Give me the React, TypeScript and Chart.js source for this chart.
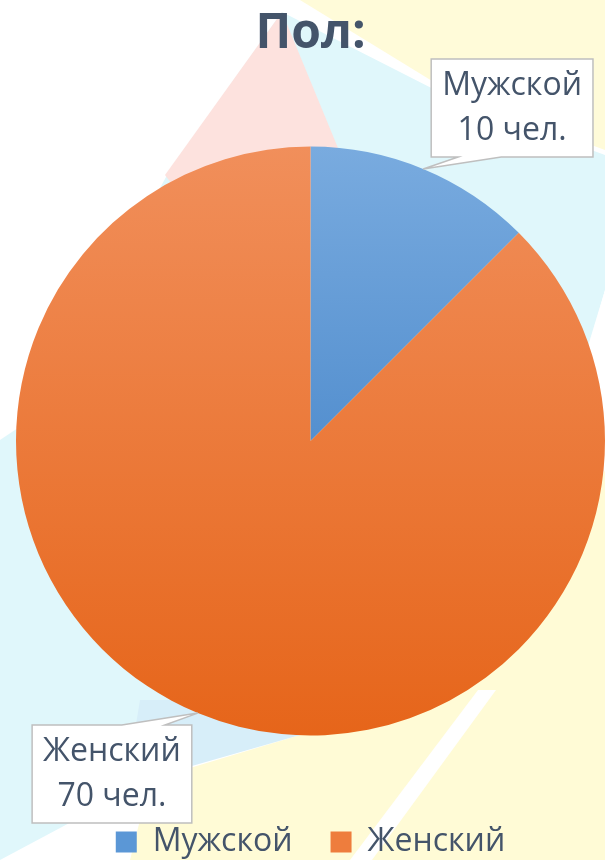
import React, { useEffect, useRef } from 'react';
import { Chart, registerables } from 'chart.js';

Chart.register(...registerables);

// ---- data ----
const categories: string[] = ['Мужской', 'Женский'];
const values: number[] = [10, 70];
const unitLabel = 'чел.';
const titleText = 'Пол:';

// ---- styles ----
const FONT = '"Open Sans", "Noto Sans", "DejaVu Sans", sans-serif';
const TEXT = '#44546a';
const gradTop = ['#79abdf', '#f18f5b'];
const gradBottom = ['#2f74bf', '#e6651a'];
const legendColors = ['#5b97d6', '#ee7d3d'];
const LABEL_SIZE = 32;

const bgPlugin = {
  id: 'bgDecor',
  beforeDraw(chart: any) {
    const { ctx, width, height } = chart;
    const sx = width / 605;
    const sy = height / 860;
    ctx.save();
    ctx.fillStyle = '#ffffff';
    ctx.fillRect(0, 0, width, height);
    const poly = (pts: number[][], color: string) => {
      ctx.beginPath();
      pts.forEach(([x, y], i) => (i ? ctx.lineTo(x * sx, y * sy) : ctx.moveTo(x * sx, y * sy)));
      ctx.closePath();
      ctx.fillStyle = color;
      ctx.fill();
    };
    poly([[300, 0], [605, 0], [605, 150], [455, 95]], '#fffbd9');
    poly([[282, 12], [455, 100], [605, 155], [605, 290], [560, 450], [300, 700], [150, 780], [0, 860], [0, 440], [30, 420], [170, 170]], '#e0f7fb');
    poly([[605, 290], [605, 310], [560, 470], [555, 455]], '#ffffff');
    poly([[282, 12], [345, 165], [260, 300], [165, 175]], '#fde2de');
    poly([[605, 470], [605, 860], [130, 860], [150, 780], [300, 735], [420, 700], [560, 560]], '#fffbd6');
    poly([[140, 700], [330, 700], [300, 735], [150, 778], [130, 760]], '#d7eef9');
    poly([[478, 690], [496, 690], [372, 860], [350, 860]], '#ffffff');
    ctx.restore();
  },
};

const calloutPlugin = {
  id: 'callouts',
  afterDatasetsDraw(chart: any) {
    const ctx = chart.ctx;
    const meta = chart.getDatasetMeta(0);
    const labels = chart.data.labels;
    const data = chart.data.datasets[0].data;
    const padX = 11;
    const boxH = 98;
    const lineGap = 45;
    ctx.save();
    ctx.font = `${LABEL_SIZE}px ${FONT}`;
    meta.data.forEach((arc: any, i: number) => {
      const { x, y, startAngle, endAngle, outerRadius } = arc.getProps(
        ['x', 'y', 'startAngle', 'endAngle', 'outerRadius'],
        true
      );
      const mid = (startAngle + endAngle) / 2;
      const tx = x + Math.cos(mid) * outerRadius;
      const ty = y + Math.sin(mid) * outerRadius;
      const line1 = String(labels[i]);
      const line2 = `${data[i]} ${unitLabel}`;
      const tw = Math.max(ctx.measureText(line1).width, ctx.measureText(line2).width);
      const bw = tw + 2 * padX;
      const right = Math.cos(mid) >= 0;
      const up = Math.sin(mid) < 0;
      const L = right ? tx + 8 : tx - 6 - bw;
      const R = L + bw;
      const T = up ? ty - 12 - boxH : ty + 12;
      const B = T + boxH;
      const b1 = right ? L + 27 : R - 27;
      const b2 = right ? L + 70 : R - 70;
      const lo = Math.min(b1, b2);
      const hi = Math.max(b1, b2);
      ctx.beginPath();
      if (up) {
        ctx.moveTo(L, T);
        ctx.lineTo(R, T);
        ctx.lineTo(R, B);
        ctx.lineTo(hi, B);
        ctx.lineTo(tx, ty);
        ctx.lineTo(lo, B);
        ctx.lineTo(L, B);
      } else {
        ctx.moveTo(L, T);
        ctx.lineTo(lo, T);
        ctx.lineTo(tx, ty);
        ctx.lineTo(hi, T);
        ctx.lineTo(R, T);
        ctx.lineTo(R, B);
        ctx.lineTo(L, B);
      }
      ctx.closePath();
      ctx.fillStyle = '#ffffff';
      ctx.fill();
      ctx.lineWidth = 1.5;
      ctx.strokeStyle = '#bfbfbf';
      ctx.stroke();
      ctx.fillStyle = TEXT;
      ctx.textAlign = 'center';
      ctx.textBaseline = 'middle';
      const cx = (L + R) / 2;
      const cy = (T + B) / 2;
      ctx.fillText(line1, cx, cy - lineGap / 2);
      ctx.fillText(line2, cx, cy + lineGap / 2);
    });
    ctx.restore();
  },
};

function sliceGradient(context: any) {
  const chart = context.chart;
  const i = context.dataIndex;
  const area = chart.chartArea;
  if (!area) return gradTop[i];
  const cy = (area.top + area.bottom) / 2;
  const r = Math.min(area.right - area.left, area.bottom - area.top) / 2;
  const g = chart.ctx.createLinearGradient(0, cy - r, 0, cy + r);
  g.addColorStop(0, gradTop[i]);
  g.addColorStop(1, gradBottom[i]);
  return g;
}

export default function App() {
  const ref = useRef<HTMLCanvasElement | null>(null);

  useEffect(() => {
    if (!ref.current) return;
    const chart = new Chart(ref.current, {
      type: 'pie',
      data: {
        labels: categories,
        datasets: [
          {
            data: values,
            backgroundColor: sliceGradient as any,
            borderWidth: 0,
          },
        ],
      },
      options: {
        animation: false,
        responsive: true,
        maintainAspectRatio: false,
        layout: { padding: { left: 16, right: 0, top: 0, bottom: -8 } },
        plugins: {
          title: {
            display: true,
            text: titleText,
            color: TEXT,
            font: { family: FONT, size: 48, weight: 'bold', lineHeight: 1.2 },
            padding: { top: 6, bottom: 30.4 },
          },
          legend: {
            display: true,
            position: 'bottom',
            labels: {
              color: TEXT,
              font: { family: FONT, size: LABEL_SIZE },
              boxWidth: 21,
              boxHeight: 21,
              padding: 38,
              generateLabels: () =>
                categories.map((c, i) => ({
                  text: c,
                  fillStyle: legendColors[i],
                  strokeStyle: legendColors[i],
                  lineWidth: 0,
                  hidden: false,
                  index: i,
                  fontColor: TEXT,
                })),
            },
          },
          tooltip: { enabled: false },
        },
      },
      plugins: [bgPlugin, calloutPlugin],
    });
    return () => chart.destroy();
  }, []);

  return (
    <div style={{ position: 'absolute', left: 0, top: 0, width: 605, height: 860 }}>
      <canvas ref={ref} />
    </div>
  );
}
